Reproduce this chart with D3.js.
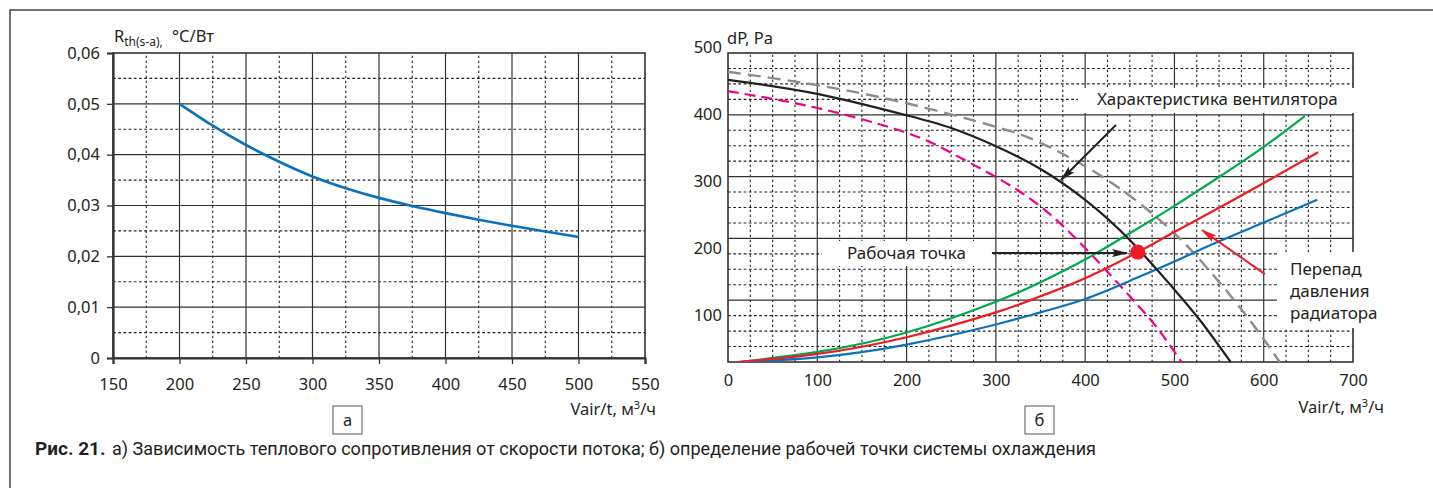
<!DOCTYPE html>
<html>
<head>
<meta charset="utf-8">
<script src="https://cdn.jsdelivr.net/npm/d3@7"></script>
<style>
  html, body { margin: 0; padding: 0; background: #fff; }
  svg text { font-family: "Noto Sans", "Open Sans", sans-serif; fill: #231f20; }
  .caption { font-family: Roboto, sans-serif; }
</style>
</head>
<body>
<svg id="chart" width="1433" height="488"></svg>
<script>
'use strict';

// ---- chart "а": thermal resistance vs air flow
var flowA = [200, 225, 250, 275, 300, 325, 350, 375, 400, 425, 450, 475, 500];
var rthA = [0.0500, 0.0457, 0.0419, 0.0386, 0.0357, 0.0334, 0.0315, 0.0299,
    0.0285, 0.0272, 0.0260, 0.0249, 0.0238];
var xTicksA = [150, 200, 250, 300, 350, 400, 450, 500, 550];
var yTicksA = [0, 0.01, 0.02, 0.03, 0.04, 0.05, 0.06];

// ---- chart "б": pressure drop vs air flow
var flowFan = [0, 100, 200, 250, 300, 350, 400, 450, 500, 530, 563];
var dpFan = [451, 430, 398, 379, 352, 318, 272, 212, 138, 90, 30];
var flowFanHi = [0, 100, 200, 300, 350, 400, 450, 500, 540, 580, 618];
var dpFanHi = [463, 443, 416, 381, 357, 322, 278, 222, 165, 100, 30];
var flowFanLo = [0, 100, 200, 250, 300, 350, 400, 450, 480, 508];
var dpFanLo = [434, 409, 372, 342, 306, 262, 200, 128, 82, 30];
var flowRadHi = [12, 100, 200, 300, 350, 400, 450, 500, 550, 600, 646];
var dpRadHi = [30, 45, 74, 120, 149, 183, 222, 263, 306, 351, 397];
var flowRad = [12, 100, 200, 300, 350, 400, 459, 500, 550, 600, 661];
var dpRad = [30, 42, 67, 104, 128, 155, 194, 224, 260, 297, 343];
var flowRadLo = [12, 100, 200, 300, 350, 400, 450, 500, 550, 600, 660];
var dpRadLo = [30, 37, 56, 86, 104, 124, 151, 180, 210, 238, 272];
var workPoint = { flow: 459, dp: 194 };
var xTicksB = [0, 100, 200, 300, 400, 500, 600, 700];
var yTicksB = [100, 200, 300, 400, 500];

var svg = d3.select('#chart');

// outer frame (top and left only)
svg.append('path')
    .attr('d', 'M 10 488 L 10 10 L 1433 10')
    .attr('fill', 'none')
    .attr('stroke', '#444')
    .attr('stroke-width', 1.5);

var defs = svg.append('defs');
function arrowMarker(id, color) {
  defs.append('marker')
      .attr('id', id)
      .attr('viewBox', '0 0 16 8')
      .attr('refX', 15)
      .attr('refY', 4)
      .attr('markerWidth', 16)
      .attr('markerHeight', 8)
      .attr('markerUnits', 'userSpaceOnUse')
      .attr('orient', 'auto')
    .append('path')
      .attr('d', 'M 0 0 L 16 4 L 0 8 L 3 4 Z')
      .attr('fill', color);
}
arrowMarker('arrowK', '#231f20');
arrowMarker('arrowR', '#ed1c24');

function toPairs(xs, ys) {
  return xs.map(function (x, i) { return [x, ys[i]]; });
}

// draws solid / dotted grid lines inside a plot box
function drawGrid(g, xScale, yScale, xMajor, xMinor, yMajor, yMinor) {
  var x0 = xScale.range()[0], x1 = xScale.range()[1],
      y0 = yScale(yScale.domain()[0]), y1 = yScale(yScale.domain()[1]);

  g.selectAll('line.vminor').data(xMinor).enter().append('line')
      .attr('x1', xScale).attr('x2', xScale).attr('y1', y0).attr('y2', y1)
      .attr('stroke', '#222').attr('stroke-width', 1.1)
      .attr('stroke-dasharray', '2.2,2.8');
  g.selectAll('line.hminor').data(yMinor).enter().append('line')
      .attr('y1', yScale).attr('y2', yScale).attr('x1', x0).attr('x2', x1)
      .attr('stroke', '#222').attr('stroke-width', 1.1)
      .attr('stroke-dasharray', '2.8,2.4');
  g.selectAll('line.vmajor').data(xMajor).enter().append('line')
      .attr('x1', xScale).attr('x2', xScale).attr('y1', y0).attr('y2', y1)
      .attr('stroke', '#333').attr('stroke-width', 1.2);
  g.selectAll('line.hmajor').data(yMajor).enter().append('line')
      .attr('y1', yScale).attr('y2', yScale).attr('x1', x0).attr('x2', x1)
      .attr('stroke', '#333').attr('stroke-width', 1.2);
}

function labelBox(x, y, label) {
  svg.append('rect')
      .attr('x', x).attr('y', y).attr('width', 29).attr('height', 28)
      .attr('fill', '#fff').attr('stroke', '#555').attr('stroke-width', 1);
  svg.append('text')
      .attr('x', x + 14.5).attr('y', y + 19.5)
      .attr('text-anchor', 'middle')
      .style('font-size', '16.5px')
      .text(label);
}

function axisTitle(x, y) {
  var t = svg.append('text')
      .attr('x', x).attr('y', y)
      .attr('text-anchor', 'end')
      .style('font-size', '16.5px');
  t.append('tspan').text('Vair/t, м');
  t.append('tspan').attr('dy', -6).style('font-size', '11px').text('3');
  t.append('tspan').attr('dy', 6).text('/ч');
}

function styleTicks(ax) {
  ax.selectAll('.tick text').style('font-size', '16.5px')
      .style('font-family', '"Noto Sans", sans-serif').attr('fill', '#231f20');
}

// ================= chart "а"
var xA = d3.scaleLinear().domain([150, 550]).range([113, 645]);
var yA = d3.scaleLinear().domain([0, 0.06]).range([358, 53]);
var gA = svg.append('g');

drawGrid(gA, xA, yA,
    d3.range(200, 550, 50),
    d3.range(175, 550, 50),
    d3.range(1, 6).map(function (i) { return i / 100; }),
    d3.range(0, 6).map(function (i) { return i / 100 + 0.005; }));

gA.append('rect')
    .attr('x', xA(150)).attr('y', yA(0.06))
    .attr('width', xA(550) - xA(150)).attr('height', yA(0) - yA(0.06))
    .attr('fill', 'none').attr('stroke', '#333').attr('stroke-width', 1.6);

var axAx = gA.append('g')
    .attr('transform', 'translate(0,' + yA(0) + ')')
    .call(d3.axisBottom(xA).tickValues(xTicksA).tickSize(6).tickPadding(14)
        .tickFormat(d3.format('d')));
var axAy = gA.append('g')
    .attr('transform', 'translate(' + xA(150) + ',0)')
    .call(d3.axisLeft(yA).tickValues(yTicksA).tickSize(6).tickPadding(7)
        .tickFormat(function (d) { return d === 0 ? '0' : d3.format('.2f')(d).replace('.', ','); }));
[axAx, axAy].forEach(function (ax) {
  ax.select('.domain').attr('stroke', '#333').attr('stroke-width', 2.2);
  ax.selectAll('.tick line').attr('stroke', '#333').attr('stroke-width', 1.3);
  styleTicks(ax);
});

gA.append('path')
    .datum(toPairs(flowA, rthA))
    .attr('fill', 'none')
    .attr('stroke', '#0a72bd')
    .attr('stroke-width', 2.6)
    .attr('d', d3.line().x(function (d) { return xA(d[0]); })
        .y(function (d) { return yA(d[1]); }).curve(d3.curveNatural));

var titleA = svg.append('text').attr('x', 114).attr('y', 42).style('font-size', '16.5px');
titleA.append('tspan').text('R');
titleA.append('tspan').attr('dy', 4).style('font-size', '12px').text('th(s-a),');
titleA.append('tspan').attr('x', 172).attr('dy', -4).text('°C/Вт');

axisTitle(656, 415);
labelBox(333, 406, 'а');

// ================= chart "б"
// the printed pressure labels are offset from the grid in the original;
// the grid spans 30..491 Pa split into 5 x 4 cells
var dpMin = 30, dpMax = 491;
var xB = d3.scaleLinear().domain([0, 700]).range([728, 1353]);
var yB = d3.scaleLinear().domain([dpMin, dpMax]).range([362, 53]);
var gB = svg.append('g');

var yStep = (dpMax - dpMin) / 20;
var yGrid = d3.range(1, 20).map(function (i) { return dpMin + i * yStep; });
drawGrid(gB, xB, yB,
    d3.range(100, 700, 100),
    d3.range(25, 700, 25).filter(function (v) { return v % 100 !== 0; }),
    yGrid.filter(function (v, i) { return (i + 1) % 4 === 0; }),
    yGrid.filter(function (v, i) { return (i + 1) % 4 !== 0; }));

gB.append('rect')
    .attr('x', xB(0)).attr('y', yB(dpMax))
    .attr('width', xB(700) - xB(0)).attr('height', yB(dpMin) - yB(dpMax))
    .attr('fill', 'none').attr('stroke', '#333').attr('stroke-width', 1.6);

var axBx = gB.append('g')
    .attr('transform', 'translate(0,' + yB(dpMin) + ')')
    .call(d3.axisBottom(xB).tickValues(xTicksB).tickSize(0).tickPadding(12)
        .tickFormat(d3.format('d')));
var axBy = gB.append('g')
    .attr('transform', 'translate(' + xB(0) + ',0)')
    .call(d3.axisLeft(yB).tickValues(yTicksB).tickSize(0).tickPadding(6)
        .tickFormat(d3.format('d')));
[axBx, axBy].forEach(function (ax) {
  ax.select('.domain').remove();
  styleTicks(ax);
});

// white backgrounds behind annotation texts
gB.append('rect').attr('x', 1078).attr('y', 88).attr('width', 282).attr('height', 25).attr('fill', '#fff');
gB.append('rect').attr('x', 822).attr('y', 241).attr('width', 171).attr('height', 25).attr('fill', '#fff');
gB.append('rect').attr('x', 1277).attr('y', 252).attr('width', 90).attr('height', 76).attr('fill', '#fff');

var lineB = d3.line()
    .x(function (d) { return xB(d[0]); })
    .y(function (d) { return yB(d[1]); })
    .curve(d3.curveNatural);

var seriesB = [
  { x: flowFanHi, y: dpFanHi, color: '#8c8c8c', width: 2.4, dash: '13,7' },
  { x: flowFanLo, y: dpFanLo, color: '#ec008c', width: 2.2, dash: '11,6' },
  { x: flowRadLo, y: dpRadLo, color: '#0a72bd', width: 2.2, dash: null },
  { x: flowRadHi, y: dpRadHi, color: '#00a84f', width: 2.2, dash: null },
  { x: flowRad, y: dpRad, color: '#ed1c24', width: 2.2, dash: null },
  { x: flowFan, y: dpFan, color: '#231f20', width: 2.2, dash: null }
];
gB.selectAll('path.series').data(seriesB).enter().append('path')
    .attr('class', 'series')
    .attr('fill', 'none')
    .attr('stroke', function (d) { return d.color; })
    .attr('stroke-width', function (d) { return d.width; })
    .attr('stroke-dasharray', function (d) { return d.dash; })
    .attr('d', function (d) { return lineB(toPairs(d.x, d.y)); });

gB.append('circle')
    .attr('cx', xB(workPoint.flow)).attr('cy', yB(workPoint.dp)).attr('r', 7.5)
    .attr('fill', '#ed1c24');

// annotation arrows (flow, dP)
function arrow(x1, y1, x2, y2, color, marker) {
  gB.append('line')
      .attr('x1', xB(x1)).attr('y1', yB(y1)).attr('x2', xB(x2)).attr('y2', yB(y2))
      .attr('stroke', color).attr('stroke-width', 2)
      .attr('marker-end', 'url(#' + marker + ')');
}
arrow(434.5, 383.6, 372.9, 301.5, '#231f20', 'arrowK');
arrow(295.6, 192.5, 447, 192.5, '#231f20', 'arrowK');
arrow(601.3, 161.2, 530.8, 226.9, '#ed1c24', 'arrowR');

gB.append('text').attr('x', 1097).attr('y', 105).style('font-size', '17px')
    .text('Характеристика вентилятора');
gB.append('text').attr('x', 847).attr('y', 259).style('font-size', '17px')
    .text('Рабочая точка');
['Перепад', 'давления', 'радиатора'].forEach(function (s, i) {
  gB.append('text').attr('x', 1290).attr('y', 275 + i * 22).style('font-size', '17px').text(s);
});

svg.append('text').attr('x', 727).attr('y', 44).style('font-size', '16.5px').text('dP, Pa');
axisTitle(1384, 413);
labelBox(1025, 406, 'б');

// caption
svg.append('text')
    .attr('class', 'caption')
    .attr('x', 35).attr('y', 455)
    .style('font-size', '19px').style('font-weight', 'bold')
    .attr('fill', '#3a3a3a')
    .text('Рис. 21.');
svg.append('text')
    .attr('class', 'caption')
    .attr('x', 112).attr('y', 455)
    .style('font-size', '18px')
    .attr('fill', '#2a2a2a')
    .attr('textLength', 984)
    .attr('lengthAdjust', 'spacingAndGlyphs')
    .text('а) Зависимость теплового сопротивления от скорости потока; б) определение рабочей точки системы охлаждения');
</script>
</body>
</html>
